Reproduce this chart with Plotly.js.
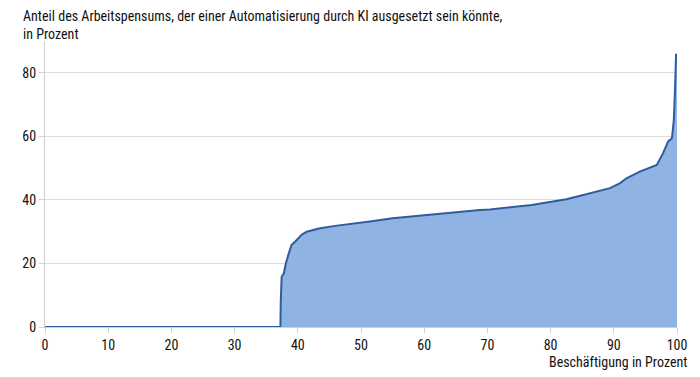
<!DOCTYPE html>
<html>
<head>
<meta charset="utf-8">
<script src="https://cdn.plot.ly/plotly-3.0.1.min.js"></script>
<style>html,body{margin:0;padding:0;background:#fff;}#chart{width:700px;height:377px;}</style>
</head>
<body>
<div id="chart"></div>
<script>
const titleText = "Anteil des Arbeitspensums, der einer Automatisierung durch KI ausgesetzt sein könnte,<br>in Prozent";
const xAxisTitle = "Beschäftigung in Prozent";
const employmentShare = [0, 37.25, 37.3, 37.45, 37.8, 38.1, 38.5, 39.0, 39.6, 40.6, 41.4, 43.5, 46.2, 49.8, 51.4, 55, 60, 65, 68.8, 70.4, 74.1, 77, 79.4, 82.5, 84.7, 87.3, 89.4, 91, 92, 94.1, 96.8, 97.8, 98.6, 99.2, 99.5, 99.7, 99.85, 100];
const exposure = [0, 0, 8, 15.8, 16.9, 20, 22.7, 25.8, 26.9, 29, 30, 31.1, 31.9, 32.7, 33.2, 34.2, 35.2, 36.1, 36.8, 37.0, 37.7, 38.4, 39.2, 40.2, 41.3, 42.6, 43.7, 45.3, 46.8, 48.9, 51, 54.7, 58.4, 59.4, 65.2, 75.7, 85.7, 85.7];
const yTicks = [0, 20, 40, 60, 80];
const xTicks = [0, 10, 20, 30, 40, 50, 60, 70, 80, 90, 100];

const font = "'Liberation Sans Narrow', 'Roboto Condensed', 'Arial Narrow', Roboto, sans-serif";

Plotly.newPlot('chart', [{
  x: employmentShare,
  y: exposure,
  type: 'scatter',
  mode: 'lines',
  fill: 'tozeroy',
  fillcolor: '#8fb4e4',
  line: {color: '#2f5d9b', width: 2},
  hoverinfo: 'skip'
}], {
  width: 700, height: 377,
  margin: {l: 45, r: 23, t: 41, b: 50},
  paper_bgcolor: '#fff', plot_bgcolor: '#fff',
  showlegend: false,
  font: {family: font, size: 14, color: '#111'},
  xaxis: {
    range: [0, 100],
    tickvals: xTicks,
    ticktext: xTicks.map(String),
    showgrid: false,
    zeroline: false,
    showline: true, linecolor: '#cfcfcf', linewidth: 1,
    ticks: 'outside', ticklen: 5, tickcolor: '#cfcfcf',
    tickfont: {family: font, size: 14, color: '#111'}
  },
  yaxis: {
    range: [0, 90],
    tickvals: yTicks,
    ticktext: yTicks.map(String),
    showgrid: true, gridcolor: '#dcdcdc', gridwidth: 1,
    zeroline: false,
    showline: true, linecolor: '#cfcfcf', linewidth: 1,
    ticks: 'outside', ticklen: 5, tickcolor: '#cfcfcf',
    tickfont: {family: font, size: 14, color: '#111'}
  },
  annotations: [{
    text: titleText,
    xref: 'paper', yref: 'paper',
    x: 0, xanchor: 'left', xshift: -24, align: 'left',
    y: 1, yanchor: 'top', yshift: 35,
    showarrow: false,
    font: {family: font, size: 14, color: '#111'}
  }, {
    text: xAxisTitle,
    xref: 'paper', yref: 'paper',
    x: 1, xanchor: 'right', xshift: 12,
    y: 0, yanchor: 'top', yshift: -25,
    showarrow: false,
    font: {family: font, size: 14, color: '#111'}
  }]
}, {displayModeBar: false, staticPlot: true});
</script>
</body>
</html>
